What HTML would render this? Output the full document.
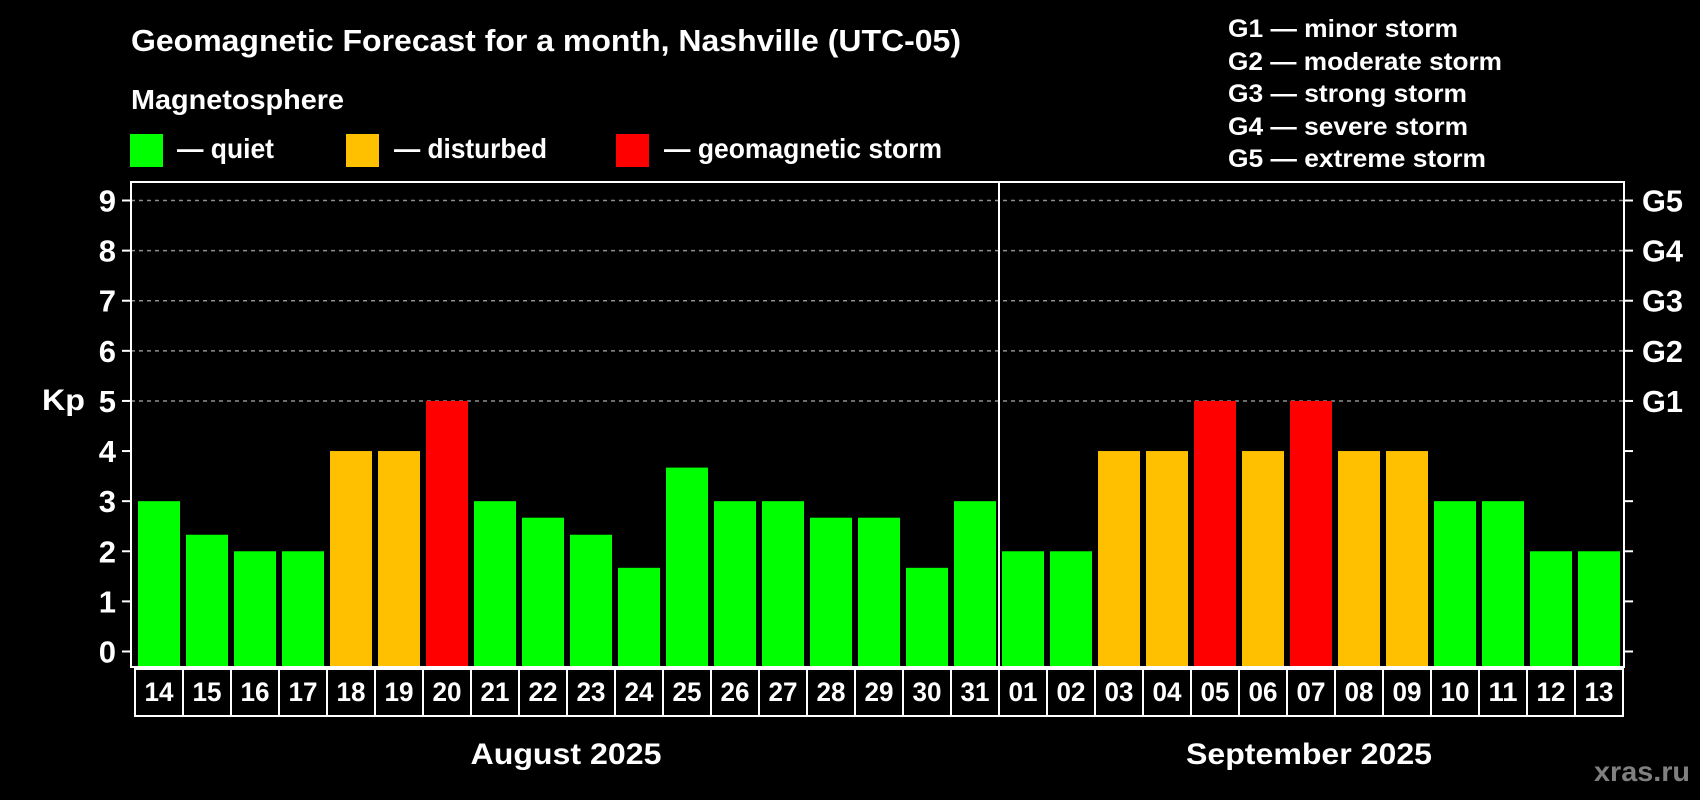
<!DOCTYPE html>
<html><head><meta charset="utf-8"><style>
html,body{margin:0;padding:0;background:#000;}
svg{display:block;font-family:"Liberation Sans",Arial,sans-serif;font-weight:bold;}
</style></head><body>
<svg id="chart" width="1700" height="800" viewBox="0 0 1700 800" xmlns="http://www.w3.org/2000/svg">
<rect width="1700" height="800" fill="#000"/>
<text x="131" y="51" font-size="31" fill="#fff" textLength="830" lengthAdjust="spacingAndGlyphs">Geomagnetic Forecast for a month, Nashville (UTC-05)</text>
<text x="131" y="109" font-size="28" fill="#fff" textLength="213" lengthAdjust="spacingAndGlyphs">Magnetosphere</text>
<g>
<rect x="130" y="134" width="33" height="33" fill="#00ff00"/>
<text x="177" y="158" font-size="28" fill="#fff" textLength="97" lengthAdjust="spacingAndGlyphs">— quiet</text></g>
<g>
<rect x="346" y="134" width="33" height="33" fill="#ffc000"/>
<text x="394" y="158" font-size="28" fill="#fff" textLength="153" lengthAdjust="spacingAndGlyphs">— disturbed</text></g>
<g>
<rect x="616" y="134" width="33" height="33" fill="#ff0000"/>
<text x="664" y="158" font-size="28" fill="#fff" textLength="278" lengthAdjust="spacingAndGlyphs">— geomagnetic storm</text></g>
<g font-size="25" fill="#fff">
<text x="1228" y="37" textLength="230" lengthAdjust="spacingAndGlyphs">G1 — minor storm</text>
<text x="1228" y="70" textLength="274" lengthAdjust="spacingAndGlyphs">G2 — moderate storm</text>
<text x="1228" y="102" textLength="239" lengthAdjust="spacingAndGlyphs">G3 — strong storm</text>
<text x="1228" y="135" textLength="240" lengthAdjust="spacingAndGlyphs">G4 — severe storm</text>
<text x="1228" y="167" textLength="258" lengthAdjust="spacingAndGlyphs">G5 — extreme storm</text>
</g>
<g id="plot"></g>
<text x="42" y="410" font-size="30" fill="#fff" textLength="43" lengthAdjust="spacingAndGlyphs">Kp</text>
<text x="566" y="764" font-size="30" fill="#fff" text-anchor="middle" textLength="191" lengthAdjust="spacingAndGlyphs">August 2025</text>
<text x="1309" y="764" font-size="30" fill="#fff" text-anchor="middle" textLength="246" lengthAdjust="spacingAndGlyphs">September 2025</text>
<text x="1690" y="781" font-size="28" fill="#808080" text-anchor="end" textLength="96" lengthAdjust="spacingAndGlyphs">xras.ru</text>
</svg>
<script>
const days = ["14","15","16","17","18","19","20","21","22","23","24","25","26","27","28","29","30","31","01","02","03","04","05","06","07","08","09","10","11","12","13"];
const kpValues = [3,2.33,2,2,4,4,5,3,2.67,2.33,1.67,3.67,3,3,2.67,2.67,1.67,3,2,2,4,4,5,4,5,4,4,3,3,2,2];
const yTicks = [0,1,2,3,4,5,6,7,8,9];
const gLabels = ["G1","G2","G3","G4","G5"];
const gLevels = [5,6,7,8,9];
const monthBreakIndex = 18;

const NS="http://www.w3.org/2000/svg";
const plot=document.getElementById('plot');
const L=131,R=1624,T=182,B=667;
const y0=651.5,unit=(651.5-200.5)/9;
const yS=v=>y0-v*unit;
const step=48,x0=138,bw=42;
const xS=i=>x0+i*step;
function mk(tag,attrs){const e=document.createElementNS(NS,tag);for(const k in attrs)e.setAttribute(k,attrs[k]);plot.appendChild(e);return e;}
function color(v){return v>=5?"#ff0000":v>=4?"#ffc000":"#00ff00";}

yTicks.forEach(t=>{
  const y=yS(t);
  if(t>=5){const g=mk('line',{x1:L,x2:R,y1:y,y2:y,stroke:'#909090','stroke-width':1.5,'stroke-dasharray':'4 4'});
  
  }
  const tl=mk('line',{x1:L-9,x2:L,y1:y,y2:y,stroke:'#fff','stroke-width':2});
  
  
  const tr=mk('line',{x1:R,x2:R+9,y1:y,y2:y,stroke:'#fff','stroke-width':2});
  
  
  const lab=mk('text',{x:116,y:y+11,'font-size':31,fill:'#fff','text-anchor':'end'});
  lab.textContent=t;
  
  
});
gLabels.forEach((g,i)=>{
  const lab=mk('text',{x:1642,y:yS(gLevels[i])+11,'font-size':31,fill:'#fff',textLength:41,lengthAdjust:'spacingAndGlyphs'});
  lab.textContent=g;
  
  
});
kpValues.forEach((v,i)=>{
  const top=yS(v);
  const b=mk('rect',{x:xS(i),y:top,width:bw,height:B-1-top,fill:color(v)});
  
  
  const bx=mk('rect',{x:xS(i)-3,y:669,width:step,height:47,fill:'none',stroke:'#fff','stroke-width':2});
  
  
  const dl=mk('text',{x:xS(i)+bw/2,y:701,'font-size':27,fill:'#fff','text-anchor':'middle',textLength:29,lengthAdjust:'spacingAndGlyphs'});
  dl.textContent=days[i];
  
  
});
const fr=mk('rect',{x:L,y:T,width:R-L,height:B-T,fill:'none',stroke:'#fff','stroke-width':2});


const dx=xS(monthBreakIndex)-3;
const dv=mk('line',{x1:dx,x2:dx,y1:T,y2:B,stroke:'#fff','stroke-width':2});


</script>
</body></html>
